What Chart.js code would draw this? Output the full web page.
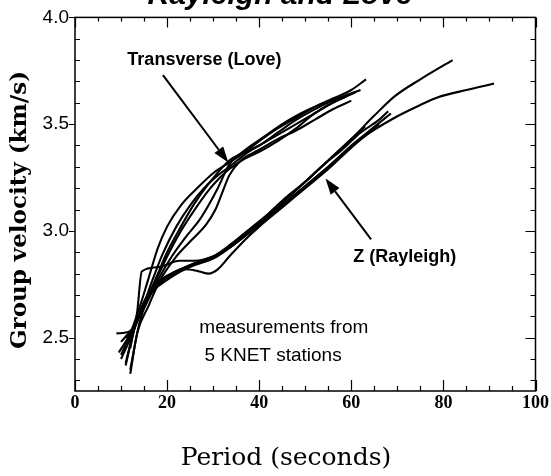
<!DOCTYPE html>
<html>
<head>
<meta charset="utf-8">
<title>Rayleigh and Love</title>
<script src="https://cdn.jsdelivr.net/npm/chart.js@4.4.1/dist/chart.umd.min.js"></script>
<style>
  html, body { margin: 0; padding: 0; background: #fff; }
  canvas { display: block; }
</style>
</head>
<body>
<canvas id="dispersion" width="551" height="476"></canvas>
<script>
"use strict";

// axis ticks
const periodTicks = [0, 20, 40, 60, 80, 100];
const velocityTicks = [2.5, 3.0, 3.5, 4.0];

// transverse (Love) group velocity picks, one pair of arrays per station
const lovePeriod1 = [9.5, 12, 14, 16, 18, 20, 23, 27, 30, 33.5, 37, 40, 44, 48, 52, 56, 60, 63.2];
const loveVel1 = [2.43, 2.52, 2.64, 2.78, 2.92, 3.02, 3.12, 3.21, 3.27, 3.32, 3.37, 3.42, 3.48, 3.53, 3.58, 3.62, 3.66, 3.71];
const lovePeriod2 = [10, 12.5, 15, 17, 19, 22, 25, 28, 31, 33.5, 37, 40, 44, 48, 52, 56, 61];
const loveVel2 = [2.40, 2.52, 2.66, 2.78, 2.89, 3.02, 3.12, 3.20, 3.26, 3.30, 3.36, 3.40, 3.45, 3.50, 3.55, 3.60, 3.65];
const lovePeriod3 = [11, 13, 15, 17, 20, 23, 26, 29, 31.5, 33.5, 37, 40, 44, 48, 52, 55, 59];
const loveVel3 = [2.37, 2.55, 2.64, 2.74, 2.88, 3.00, 3.10, 3.19, 3.25, 3.29, 3.34, 3.37, 3.42, 3.48, 3.55, 3.59, 3.63];
const lovePeriod4 = [12, 13.5, 16, 18.5, 22, 25, 28.5, 30.5, 32, 33.5, 36, 40, 44, 48, 52, 56, 60];
const loveVel4 = [2.33, 2.52, 2.65, 2.77, 2.88, 2.95, 3.03, 3.10, 3.18, 3.26, 3.33, 3.38, 3.43, 3.47, 3.52, 3.57, 3.61];
const lovePeriod5 = [11, 13, 15.5, 18, 21, 24, 27, 29, 31, 33.5, 37, 41, 45, 49, 53, 57, 62];
const loveVel5 = [2.47, 2.56, 2.66, 2.77, 2.88, 2.97, 3.05, 3.12, 3.20, 3.31, 3.38, 3.44, 3.50, 3.55, 3.59, 3.62, 3.66];
const lovePeriod6 = [9, 12, 14, 16, 18, 20, 23, 26, 29, 33.5, 36, 40, 44, 48, 53, 58];
const loveVel6 = [2.52, 2.53, 2.60, 2.70, 2.80, 2.90, 3.02, 3.13, 3.22, 3.33, 3.36, 3.40, 3.46, 3.52, 3.58, 3.63];

// vertical (Rayleigh) group velocity picks
const rayPeriod1 = [12, 13.5, 14.5, 18, 22.7, 26, 30, 33.5, 37, 40, 45, 50, 55, 60, 64, 68.6];
const rayVel1 = [2.45, 2.62, 2.81, 2.83, 2.86, 2.86, 2.88, 2.92, 2.98, 3.03, 3.12, 3.21, 3.30, 3.40, 3.47, 3.55];
const rayPeriod2 = [10, 13, 15, 17, 20, 23, 26, 30, 33.5, 37, 40, 45, 50, 55, 60, 65, 69.4, 75, 82];
const rayVel2 = [2.42, 2.56, 2.66, 2.73, 2.78, 2.82, 2.85, 2.88, 2.93, 2.99, 3.04, 3.14, 3.23, 3.33, 3.43, 3.54, 3.63, 3.71, 3.80];
const rayPeriod3 = [11, 13, 15, 17, 20, 23, 26, 30, 33.5, 37, 40, 45, 50, 55, 62, 69.4, 75, 78.7, 85, 91];
const rayVel3 = [2.38, 2.55, 2.65, 2.72, 2.77, 2.81, 2.84, 2.87, 2.92, 2.98, 3.03, 3.12, 3.21, 3.30, 3.43, 3.53, 3.59, 3.625, 3.66, 3.69];
const rayPeriod4 = [10, 13, 15, 17, 19, 21, 24, 27, 29, 31, 33.5, 37, 40, 45, 50, 55, 60, 66];
const rayVel4 = [2.48, 2.56, 2.66, 2.72, 2.77, 2.80, 2.82, 2.81, 2.80, 2.82, 2.88, 2.96, 3.02, 3.11, 3.20, 3.29, 3.39, 3.50];
const rayPeriod5 = [12, 14, 16, 18, 21, 24, 28, 31, 34, 38, 42, 46, 50, 54, 58, 62, 66, 68];
const rayVel5 = [2.35, 2.57, 2.69, 2.75, 2.80, 2.83, 2.86, 2.89, 2.94, 3.01, 3.08, 3.16, 3.23, 3.31, 3.38, 3.46, 3.52, 3.56];
const rayPeriod6 = [11, 13, 15, 17, 20, 24, 28, 32, 36, 40, 45, 50, 55, 60, 63];
const rayVel6 = [2.50, 2.56, 2.67, 2.74, 2.79, 2.83, 2.86, 2.90, 2.96, 3.03, 3.13, 3.23, 3.33, 3.43, 3.49];

const curves = [
  [lovePeriod1, loveVel1], [lovePeriod2, loveVel2], [lovePeriod3, loveVel3],
  [lovePeriod4, loveVel4], [lovePeriod5, loveVel5], [lovePeriod6, loveVel6],
  [rayPeriod1, rayVel1], [rayPeriod2, rayVel2], [rayPeriod3, rayVel3],
  [rayPeriod4, rayVel4], [rayPeriod5, rayVel5], [rayPeriod6, rayVel6],
];

// labels and arrows, placed in period / velocity units
const loveArrow = { from: [19.1, 3.73], to: [33.3, 3.32] };
const rayArrow = { from: [64.3, 2.96], to: [54.4, 3.245] };
const notes = [
  { text: "Transverse (Love)", at: [28.1, 3.80], font: "bold 18px 'Liberation Sans', Arial, sans-serif", align: "center" },
  { text: "Z (Rayleigh)", at: [71.6, 2.877], font: "bold 18px 'Liberation Sans', Arial, sans-serif", align: "center" },
  { text: "measurements from", at: [27.0, 2.547], font: "19px 'Liberation Sans', Arial, sans-serif", align: "left" },
  { text: "5 KNET stations", at: [28.1, 2.417], font: "19px 'Liberation Sans', Arial, sans-serif", align: "left" },
];

const datasets = curves.map(function (c) {
  return {
    data: c[0].map(function (p, i) { return { x: p, y: c[1][i] }; }),
    borderColor: "#000",
    borderWidth: 2.1,
    pointRadius: 0,
    fill: false,
    cubicInterpolationMode: "monotone",
  };
});

function drawArrow(ctx, x0, y0, x1, y1) {
  const ang = Math.atan2(y1 - y0, x1 - x0);
  const len = 16, half = 5.5;
  const bx = x1 - len * Math.cos(ang), by = y1 - len * Math.sin(ang);
  ctx.beginPath();
  ctx.moveTo(x0, y0);
  ctx.lineTo(bx, by);
  ctx.stroke();
  ctx.beginPath();
  ctx.moveTo(x1, y1);
  ctx.lineTo(bx + half * Math.sin(ang), by - half * Math.cos(ang));
  ctx.lineTo(bx - half * Math.sin(ang), by + half * Math.cos(ang));
  ctx.closePath();
  ctx.fill();
}

// box with inward ticks on all four sides, titles and annotations
const frameAndLabels = {
  id: "frameAndLabels",
  afterDraw(chart) {
    const { ctx, chartArea: a, scales: { x, y } } = chart;
    ctx.save();
    ctx.strokeStyle = "#000";
    ctx.fillStyle = "#000";
    ctx.lineWidth = 1.5;
    ctx.strokeRect(a.left, a.top, a.right - a.left, a.bottom - a.top);

    ctx.lineWidth = 1.2;
    ctx.beginPath();
    for (let v = 0; v <= 100; v += 5) {
      const px = Math.round(x.getPixelForValue(v)) + 0.5;
      const major = v % 20 === 0;
      ctx.moveTo(px, a.bottom);
      ctx.lineTo(px, a.bottom - (major ? 11 : 5));
      ctx.moveTo(px, a.top);
      ctx.lineTo(px, a.top + (major ? 10 : 4));
    }
    for (let i = 23; i <= 40; i++) {
      const py = Math.round(y.getPixelForValue(i / 10)) + 0.5;
      if (i % 5 === 0) {
        ctx.moveTo(a.left - 6, py);
        ctx.lineTo(a.left, py);
        ctx.moveTo(a.right, py);
        ctx.lineTo(a.right - 10, py);
      } else {
        ctx.moveTo(a.left, py);
        ctx.lineTo(a.left + 5, py);
        ctx.moveTo(a.right, py);
        ctx.lineTo(a.right - 5, py);
      }
    }
    ctx.stroke();

    // arrows
    ctx.lineWidth = 2;
    [loveArrow, rayArrow].forEach(function (ar) {
      drawArrow(ctx,
        x.getPixelForValue(ar.from[0]), y.getPixelForValue(ar.from[1]),
        x.getPixelForValue(ar.to[0]), y.getPixelForValue(ar.to[1]));
    });

    ctx.textBaseline = "middle";
    notes.forEach(function (n) {
      ctx.font = n.font;
      ctx.textAlign = n.align;
      ctx.fillText(n.text, x.getPixelForValue(n.at[0]), y.getPixelForValue(n.at[1]));
    });

    // title, partly running off the top edge
    ctx.textAlign = "center";
    ctx.textBaseline = "alphabetic";
    ctx.font = "italic bold 30px 'Liberation Sans', Arial, sans-serif";
    ctx.fillText("Rayleigh and Love", 280, 4);

    // axis titles
    ctx.textBaseline = "middle";
    ctx.font = "25px 'DejaVu Serif', serif";
    ctx.fillText("Period (seconds)", 286, 458);
    ctx.save();
    ctx.translate(20, 210);
    ctx.rotate(-Math.PI / 2);
    ctx.font = "bold 23px 'DejaVu Serif', serif";
    ctx.fillText("Group velocity (km/s)", 0, 0);
    ctx.restore();
    ctx.restore();
  },
};

const ctx = document.getElementById("dispersion");
const chart = new Chart(ctx, {
  type: "line",
  data: { datasets: datasets },
  options: {
    responsive: false,
    animation: false,
    layout: { padding: { top: 14, right: 12, left: 0, bottom: 0 } },
    plugins: {
      legend: { display: false },
      tooltip: { enabled: false },
    },
    scales: {
      x: {
        type: "linear",
        min: 0,
        max: 100,
        afterFit: function (s) { s.height = 85; },
        afterBuildTicks: function (s) { s.ticks = periodTicks.map(function (v) { return { value: v }; }); },
        grid: { display: false, drawTicks: false },
        border: { display: false },
        ticks: {
          padding: 2,
          color: "#000",
          maxRotation: 0,
          font: { family: "'Liberation Serif', serif", size: 18, weight: "bold" },
        },
      },
      y: {
        type: "linear",
        min: 2.25,
        max: 4.0,
        afterFit: function (s) { s.width = 75; },
        afterBuildTicks: function (s) { s.ticks = velocityTicks.map(function (v) { return { value: v }; }); },
        grid: { display: false, drawTicks: false },
        border: { display: false },
        ticks: {
          padding: 6,
          color: "#000",
          font: { family: "'Liberation Sans', Arial, sans-serif", size: 19 },
          callback: function (v) { return Number(v).toFixed(1); },
        },
      },
    },
  },
  plugins: [frameAndLabels],
});
</script>
</body>
</html>
